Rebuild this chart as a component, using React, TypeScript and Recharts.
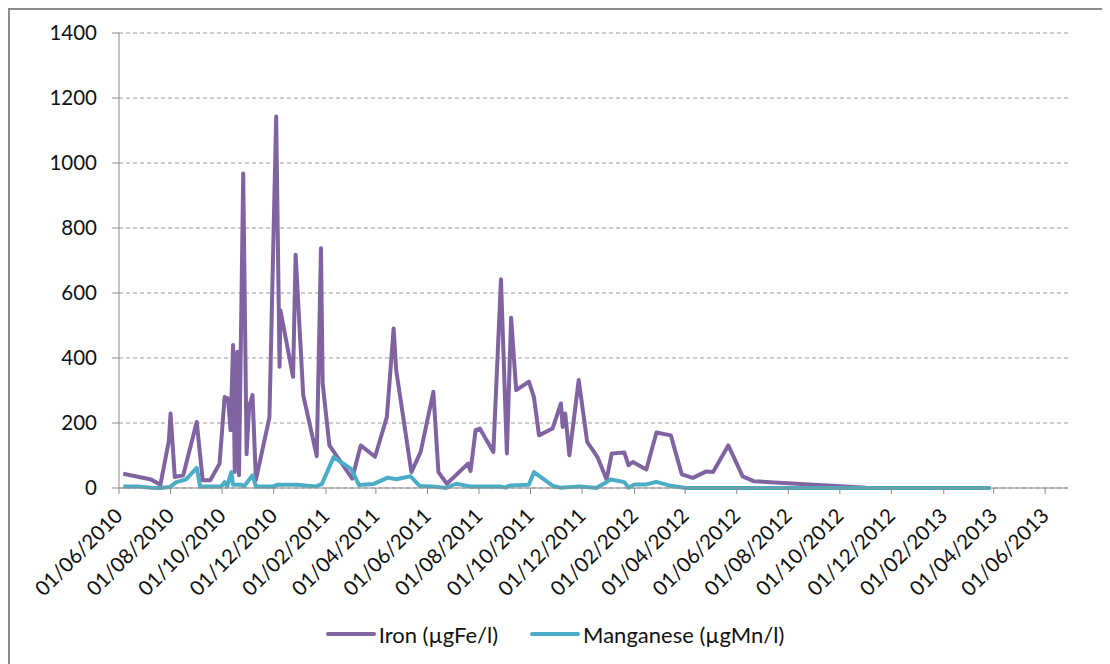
import React from "react";
import {
  LineChart,
  Line,
  XAxis,
  YAxis,
  CartesianGrid,
  Legend,
} from "recharts";

const ironDates = [
  "2010-06-06", "2010-07-09", "2010-07-20", "2010-07-30", "2010-08-01", "2010-08-06",
  "2010-08-16", "2010-09-01", "2010-09-08", "2010-09-17", "2010-09-28", "2010-10-04",
  "2010-10-08", "2010-10-11", "2010-10-14", "2010-10-16", "2010-10-19", "2010-10-21",
  "2010-10-26", "2010-10-30", "2010-11-02", "2010-11-06", "2010-11-10", "2010-11-26",
  "2010-12-04", "2010-12-08", "2010-12-09", "2010-12-24", "2010-12-27", "2011-01-05",
  "2011-01-21", "2011-01-26", "2011-01-28", "2011-02-05", "2011-03-04", "2011-03-14",
  "2011-03-31", "2011-04-14", "2011-04-22", "2011-04-25", "2011-05-13", "2011-05-24",
  "2011-06-08", "2011-06-14", "2011-06-24", "2011-07-19", "2011-07-22", "2011-07-28",
  "2011-08-02", "2011-08-18", "2011-08-27", "2011-09-03", "2011-09-08", "2011-09-14",
  "2011-09-29", "2011-10-05", "2011-10-11", "2011-10-27", "2011-11-06", "2011-11-08",
  "2011-11-11", "2011-11-16", "2011-11-27", "2011-12-07", "2011-12-19", "2011-12-30",
  "2012-01-05", "2012-01-20", "2012-01-25", "2012-01-30", "2012-02-15", "2012-02-27",
  "2012-03-15", "2012-03-28", "2012-04-10", "2012-04-26", "2012-05-04", "2012-05-22",
  "2012-06-08", "2012-06-21", "2012-11-01", "2013-03-28",
];
const ironValues = [
  44, 26, 10, 145, 229, 34, 39, 203, 24, 24, 75, 280, 275, 178, 440, 49, 419, 39, 968, 104,
  250, 286, 25, 217, 1143, 373, 547, 342, 718, 286, 98, 738, 322, 131, 29, 131, 96, 219, 491, 363,
  49, 111, 296, 49, 13, 75, 52, 178, 183, 111, 642, 106, 524, 301, 327, 280, 162, 183, 260, 188,
  229, 101, 332, 142, 96, 26, 106, 109, 70, 80, 57, 171, 162, 42, 31, 51, 49, 131, 36, 21, 1, 0,
];

const mnDates = [
  "2010-06-06", "2010-06-22", "2010-07-09", "2010-07-20", "2010-07-31", "2010-08-08",
  "2010-08-19", "2010-09-01", "2010-09-05", "2010-09-30", "2010-10-04", "2010-10-07",
  "2010-10-12", "2010-10-14", "2010-10-24", "2010-10-27", "2010-11-06", "2010-11-10",
  "2010-11-30", "2010-12-06", "2010-12-28", "2011-01-20", "2011-01-27", "2011-02-10",
  "2011-03-03", "2011-03-12", "2011-03-29", "2011-04-15", "2011-04-25", "2011-05-12",
  "2011-05-23", "2011-06-07", "2011-06-23", "2011-07-05", "2011-07-21", "2011-08-26",
  "2011-09-01", "2011-09-07", "2011-09-29", "2011-10-05", "2011-10-27", "2011-11-05",
  "2011-11-28", "2011-12-18", "2012-01-04", "2012-01-20", "2012-01-25", "2012-02-01",
  "2012-02-15", "2012-02-27", "2012-03-13", "2012-04-02", "2012-06-08", "2012-11-01",
  "2013-03-28",
];
const mnValues = [
  5, 5, 1, 0, 3, 18, 26, 62, 5, 5, 18, 5, 49, 10, 10, 5, 39, 5, 5, 10, 10, 5, 12, 95, 58,
  9, 12, 32, 27, 36, 6, 5, 0, 13, 5, 5, 1, 8, 10, 49, 7, 1, 5, 0, 26, 18, 1, 11, 11, 19,
  8, 0, 0, 0, 0,
];

const tickDates = [
  "2010-06-01", "2010-08-01", "2010-10-01", "2010-12-01", "2011-02-01", "2011-04-01",
  "2011-06-01", "2011-08-01", "2011-10-01", "2011-12-01", "2012-02-01", "2012-04-01",
  "2012-06-01", "2012-08-01", "2012-10-01", "2012-12-01", "2013-02-01", "2013-04-01",
  "2013-06-01",
];
const yTicks = [0, 200, 400, 600, 800, 1000, 1200, 1400];

const IRON = "#8064A2";
const MN = "#4BACC6";
const FONT = "Lato, 'Open Sans', sans-serif";

const ts = (s: string) => Date.parse(s + "T00:00:00Z");

const ironData = ironDates.map((d, i) => ({ t: ts(d), v: ironValues[i] }));
const mnData = mnDates.map((d, i) => ({ t: ts(d), v: mnValues[i] }));
const xTicks = tickDates.map(ts);
const xDomain = [ts("2010-06-01"), ts("2013-06-28")];

function fmt(value: number) {
  const d = new Date(value);
  const dd = String(d.getUTCDate()).padStart(2, "0");
  const mm = String(d.getUTCMonth() + 1).padStart(2, "0");
  return `${dd}/${mm}/${d.getUTCFullYear()}`;
}

function DateTick({ x, y, payload }: any) {
  const ax = x + 5;
  const ay = y + 21;
  return (
    <text
      x={ax}
      y={ay}
      transform={`rotate(-45 ${ax} ${ay})`}
      textAnchor="end"
      fontSize={20.5}
      fontFamily={FONT}
      fill="#111"
    >
      {fmt(payload.value)}
    </text>
  );
}

function LegendBox() {
  const item = (color: string, label: string) => (
    <div style={{ display: "flex", alignItems: "center" }}>
      <div style={{ width: 50, height: 4, background: color, borderRadius: 2 }} />
      <span style={{ marginLeft: 3 }}>{label}</span>
    </div>
  );
  return (
    <div
      style={{
        height: 30,
        display: "flex",
        justifyContent: "center",
        alignItems: "center",
        gap: 32,
        paddingLeft: 32,
        fontFamily: FONT,
        fontSize: 22,
        color: "#111",
      }}
    >
      {item(IRON, "Iron (µgFe/l)")}
      {item(MN, "Manganese (µgMn/l)")}
    </div>
  );
}

export default function App() {
  return (
    <div
      style={{
        width: 1092,
        height: 656,
        border: "2px solid #8a8a8a",
        background: "#fff",
      }}
    >
      <LineChart
        width={1092}
        height={656}
        margin={{ top: 23, right: 34, bottom: 17, left: 0 }}
      >
        <CartesianGrid
          horizontal
          vertical={false}
          stroke="#9a9a9a"
          strokeDasharray="4 3"
        />
        <XAxis
          dataKey="t"
          type="number"
          domain={xDomain}
          ticks={xTicks}
          allowDataOverflow
          height={131}
          stroke="#8a8a8a"
          tickSize={6}
          tick={<DateTick />}
          interval={0}
        />
        <YAxis
          type="number"
          domain={[0, 1400]}
          ticks={yTicks}
          width={109}
          stroke="#8a8a8a"
          tickSize={7}
          tickMargin={15}
          tick={{ fontSize: 20.5, fontFamily: FONT, fill: "#111" }}
          interval={0}
        />
        <Legend verticalAlign="bottom" content={() => <LegendBox />} />
        <Line
          data={ironData}
          dataKey="v"
          name="Iron (µgFe/l)"
          type="linear"
          stroke={IRON}
          strokeWidth={4}
          strokeLinejoin="round"
          dot={false}
          isAnimationActive={false}
        />
        <Line
          data={mnData}
          dataKey="v"
          name="Manganese (µgMn/l)"
          type="linear"
          stroke={MN}
          strokeWidth={4}
          strokeLinejoin="round"
          dot={false}
          isAnimationActive={false}
        />
      </LineChart>
    </div>
  );
}
